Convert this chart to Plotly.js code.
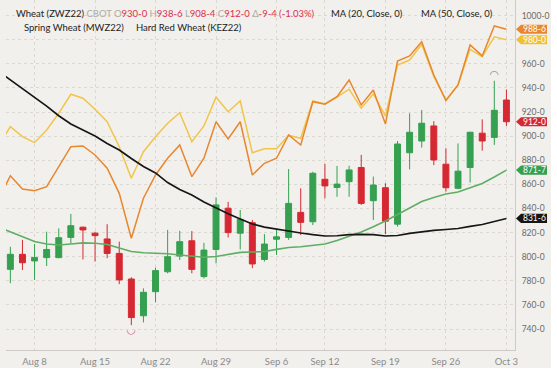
<!DOCTYPE html>
<html><head><meta charset="utf-8">
<script src="https://cdn.plot.ly/plotly-3.0.1.min.js"></script>
<style>html,body{margin:0;padding:0;background:#fff;}#chart{width:551px;height:368px;}</style>
</head><body><div id="chart"></div>
<script>
// Trading days (Aug 3 is only partly visible at the left edge, lines only)
const days = ['Aug 3','Aug 4','Aug 5','Aug 8','Aug 9','Aug 10','Aug 11','Aug 12','Aug 15','Aug 16','Aug 17','Aug 18','Aug 19',
  'Aug 22','Aug 23','Aug 24','Aug 25','Aug 26','Aug 29','Aug 30','Aug 31','Sep 1','Sep 2','Sep 6','Sep 7','Sep 8','Sep 9',
  'Sep 12','Sep 13','Sep 14','Sep 15','Sep 16','Sep 19','Sep 20','Sep 21','Sep 22','Sep 23','Sep 26','Sep 27','Sep 28','Sep 29','Sep 30','Oct 3'];
// Wheat (ZWZ22) candles, Aug 4 .. Oct 3
const open  = [789.5,802,796.5,799.25,799.25,816,824.5,819.5,814.75,802.75,781.5,751,771,787.5,800.5,813.25,783.5,806,840.25,819.5,828.25,797.75,814.5,816,836.75,829,864.25,857.5,862.25,874,846.5,857.25,827,886.25,896,908.5,876.75,856.75,874,902.5,899,930];
const high  = [808.25,814,810.5,820.75,823.5,835.5,825,820.75,827,812.5,783,773.75,791,822.25,821.5,821.25,811.5,849.25,845.5,838.75,830.5,818.75,822.75,872.75,856.75,870.5,877,875.25,875.5,884.5,866.5,861,896,919,921.75,912.5,890,894,903.75,914,946,938.75];
const low   = [778,789,780.75,792.25,798.75,811,797.75,796,798.75,777.25,743.25,745.5,762.25,786.25,797.25,786.25,782,794.5,816,806,790.5,796,801.5,814,818,826.25,848.5,849.75,849.75,843,830.5,818.75,825,872.5,890.5,876,854,856,861.5,888,892.75,908.5];
const close = [802,795,799.25,806,815.75,825.75,822.25,817.5,802.75,780.75,749.5,770.5,788.5,800,812.5,789.5,805.5,843,820,831,794,810.5,816.5,844.25,828.5,869.25,858.75,860.25,872,844.25,859.5,829.5,893.5,903.25,910.75,880.25,857.25,871,903.25,896,921.5,912];
// Overlay series, Aug 3 .. Oct 3
const spring = [891.5,907.9,899.6,894.6,905.1,919,934.8,931.5,922.3,912,891.3,865.1,887.1,899.6,910.7,919.5,895.4,908.5,932.3,920.3,929.2,886.3,889.6,889.6,900.7,898.3,929.2,926.7,932.5,939,923.2,935,916.8,959.1,963.2,976.3,949.4,930,942.5,972.1,966,982.5,980];
const hardRed = [847,867.2,856.2,854.8,858.1,874.7,891.3,891.9,884.4,873.4,852.6,815.3,848.5,867.8,881.7,892.7,866.4,881.7,912,897.7,912,867.8,877.5,881.7,901,892.7,928.6,926.5,932.8,946.6,925.9,938.3,910.1,962.4,966.6,978.4,950.8,929.5,942.5,975.7,966.6,991.5,988.75];
const ma20 = [824.6,820.5,816.3,812.6,810.5,809.7,810.5,811.5,811.2,810.1,807.2,804.3,803.3,802.9,802.5,801.4,800.2,799.5,800.2,802.2,803.6,803.9,804.3,806.1,807.6,808.3,809.3,810.5,813.4,816.8,820.5,824.9,829.6,835,840.6,845.8,849.1,852,853.7,857,860.7,866.1,871.875];
const ma50 = [954,946.8,939.6,932.5,925,917,910.1,905.1,900.2,894,888.5,881.5,874.9,869.5,861.5,855.8,851.2,845.4,840.4,835.7,831.3,827.1,824.6,822.8,821.6,819.7,818.3,817.2,817.4,818.4,818.6,818.4,817.2,817.6,819.3,820.9,821.9,822.6,823.4,825.1,826.7,829.2,831.75];
const tickDays = ['Aug 8','Aug 15','Aug 22','Aug 29','Sep 6','Sep 12','Sep 19','Sep 26','Oct 3'];
const yTicks = [740,760,780,800,820,840,860,880,900,920,940,960,980,1000];

const C = {green:'#34a050', red:'#d62832', ma20:'#5fae64', ma50:'#161616', orange:'#e8872d', yellow:'#f0c54a', tagYellow:'#efbf34', bg:'#f2f0ec'};
function fmt(v){const s=v<0?'-':'';v=Math.abs(v);let w=Math.floor(v+1e-9);let e=Math.round((v-w)*8);if(e===8){w+=1;e=0;}return s+w+'-'+e;}

const xi = days.map((d,i)=>i);
const cx = days.slice(1).map((d,i)=>i+1);
const xr = [0.64, 42.71];
const yr = [722.6, 1013];
const W=551,H=368,L=6,R=36,T=0,B=18;
const pw=W-L-R, ph=H-T-B;
const px=(p)=>(p-L)/pw;
const py=(p)=>1-(p-T)/ph;
const yp=(v)=>(v-yr[0])/(yr[1]-yr[0]);

const traces = [
  {type:'scatter',mode:'lines',x:xi,y:spring,line:{color:C.yellow,width:1.5},hoverinfo:'skip'},
  {type:'scatter',mode:'lines',x:xi,y:hardRed,line:{color:C.orange,width:1.5},hoverinfo:'skip'},
  {type:'scatter',mode:'lines',x:xi,y:ma20,line:{color:C.ma20,width:1.6},hoverinfo:'skip'},
  {type:'scatter',mode:'lines',x:xi,y:ma50,line:{color:C.ma50,width:1.7},hoverinfo:'skip'},
  {type:'candlestick',x:cx,open:open,high:high,low:low,close:close,whiskerwidth:0,
   increasing:{line:{color:C.green,width:1},fillcolor:C.green},
   decreasing:{line:{color:C.red,width:1},fillcolor:C.red},hoverinfo:'skip'}
];
// high / low markers
const hiIdx = high.indexOf(Math.max(...high)), loIdx = low.indexOf(Math.min(...low));
traces.push({type:'scatter',mode:'text',x:[cx[hiIdx]],y:[high[hiIdx]],text:['◠'],textposition:'top center',
  textfont:{family:'DejaVu Sans',size:11,color:'#9a9a9a'},cliponaxis:false,hoverinfo:'skip'});
traces.push({type:'scatter',mode:'text',x:[cx[loIdx]],y:[low[loIdx]],text:['◡'],textposition:'bottom center',
  textfont:{family:'DejaVu Sans',size:11,color:'#d9607a'},cliponaxis:false,hoverinfo:'skip'});

const n=close.length;
const chg=close[n-1]-close[n-2];
const pct=(chg/close[n-2]*100).toFixed(2);
const grey='#b0aca6', vr='#dc2f4f';
const line1 = 'Wheat (ZWZ22) <span style="color:'+grey+'">CBOT</span> '+
  '<span style="color:'+grey+'">O</span><span style="color:'+vr+'">'+fmt(open[n-1])+'</span> '+
  '<span style="color:'+grey+'">H</span><span style="color:'+vr+'">'+fmt(high[n-1])+'</span> '+
  '<span style="color:'+grey+'">L</span><span style="color:'+vr+'">'+fmt(low[n-1])+'</span> '+
  '<span style="color:'+grey+'">C</span><span style="color:'+vr+'">'+fmt(close[n-1])+'</span> '+
  '<span style="color:'+grey+'">Δ</span><span style="color:'+vr+'">'+fmt(chg)+' ('+pct+'%)</span>';
const tf={family:'Lato, sans-serif',size:9.5,color:'#222'};
const annotations = [
  {xref:'paper',yref:'paper',x:px(14),y:py(13.5),xanchor:'left',yanchor:'middle',showarrow:false,text:line1,font:tf},
  {xref:'paper',yref:'paper',x:px(329),y:py(13.5),xanchor:'left',yanchor:'middle',showarrow:false,text:'MA (20, Close, 0)',font:tf},
  {xref:'paper',yref:'paper',x:px(419),y:py(13.5),xanchor:'left',yanchor:'middle',showarrow:false,text:'MA (50, Close, 0)',font:tf},
  {xref:'paper',yref:'paper',x:px(22),y:py(27.5),xanchor:'left',yanchor:'middle',showarrow:false,text:'Spring Wheat (MWZ22)',font:tf},
  {xref:'paper',yref:'paper',x:px(134),y:py(27.5),xanchor:'left',yanchor:'middle',showarrow:false,text:'Hard Red Wheat (KEZ22)',font:tf}
];
const shapes=[];
const hh = 4.6/ph; // half tag height in paper units
function tag(v,color){
  const yc=yp(v);
  const x0=px(516), x1=px(521), x2=px(547);
  shapes.push({type:'path',xref:'paper',yref:'paper',layer:'above',
    path:'M '+x0+','+yc+' L '+x1+','+(yc+hh)+' L '+x2+','+(yc+hh)+' L '+x2+','+(yc-hh)+' L '+x1+','+(yc-hh)+' Z',
    fillcolor:color,line:{width:0}});
  annotations.push({xref:'paper',yref:'paper',x:px(534),y:yc,xanchor:'center',yanchor:'middle',showarrow:false,
    borderpad:0,text:fmt(v),font:{family:'Lato, sans-serif',size:8.5,color:'#fff'}});
}
tag(ma50[ma50.length-1],C.ma50);
tag(ma20[ma20.length-1],C.green);
tag(close[n-1],C.red);
tag(spring[spring.length-1],C.tagYellow);
tag(hardRed[hardRed.length-1],C.orange);

const layout = {
  width:W,height:H,margin:{l:L,r:R,t:T,b:B,pad:0},
  paper_bgcolor:C.bg,plot_bgcolor:C.bg,showlegend:false,
  font:{family:'Lato, sans-serif',size:10,color:'#6a6a6a'},
  xaxis:{type:'linear',range:xr,tickvals:tickDays.map(d=>days.indexOf(d)),ticktext:tickDays,
    showgrid:true,gridcolor:'#dcd8d2',griddash:'dot',gridwidth:1,zeroline:false,
    showline:true,linecolor:'#cfcac3',ticks:'',ticklabelstandoff:3,tickfont:{size:9.5,color:'#8a8a8a'},rangeslider:{visible:false}},
  yaxis:{side:'right',range:yr,tickvals:yTicks,ticktext:yTicks.map(fmt),
    showgrid:true,gridcolor:'#dcd8d2',griddash:'dot',gridwidth:1,zeroline:false,
    showline:true,linecolor:'#cfcac3',ticks:'',ticklabelstandoff:4,tickfont:{size:8.5,color:'#6a6a6a'}},
  annotations:annotations,shapes:shapes
};
Plotly.newPlot('chart',traces,layout,{displayModeBar:false,staticPlot:true});
</script></body></html>
